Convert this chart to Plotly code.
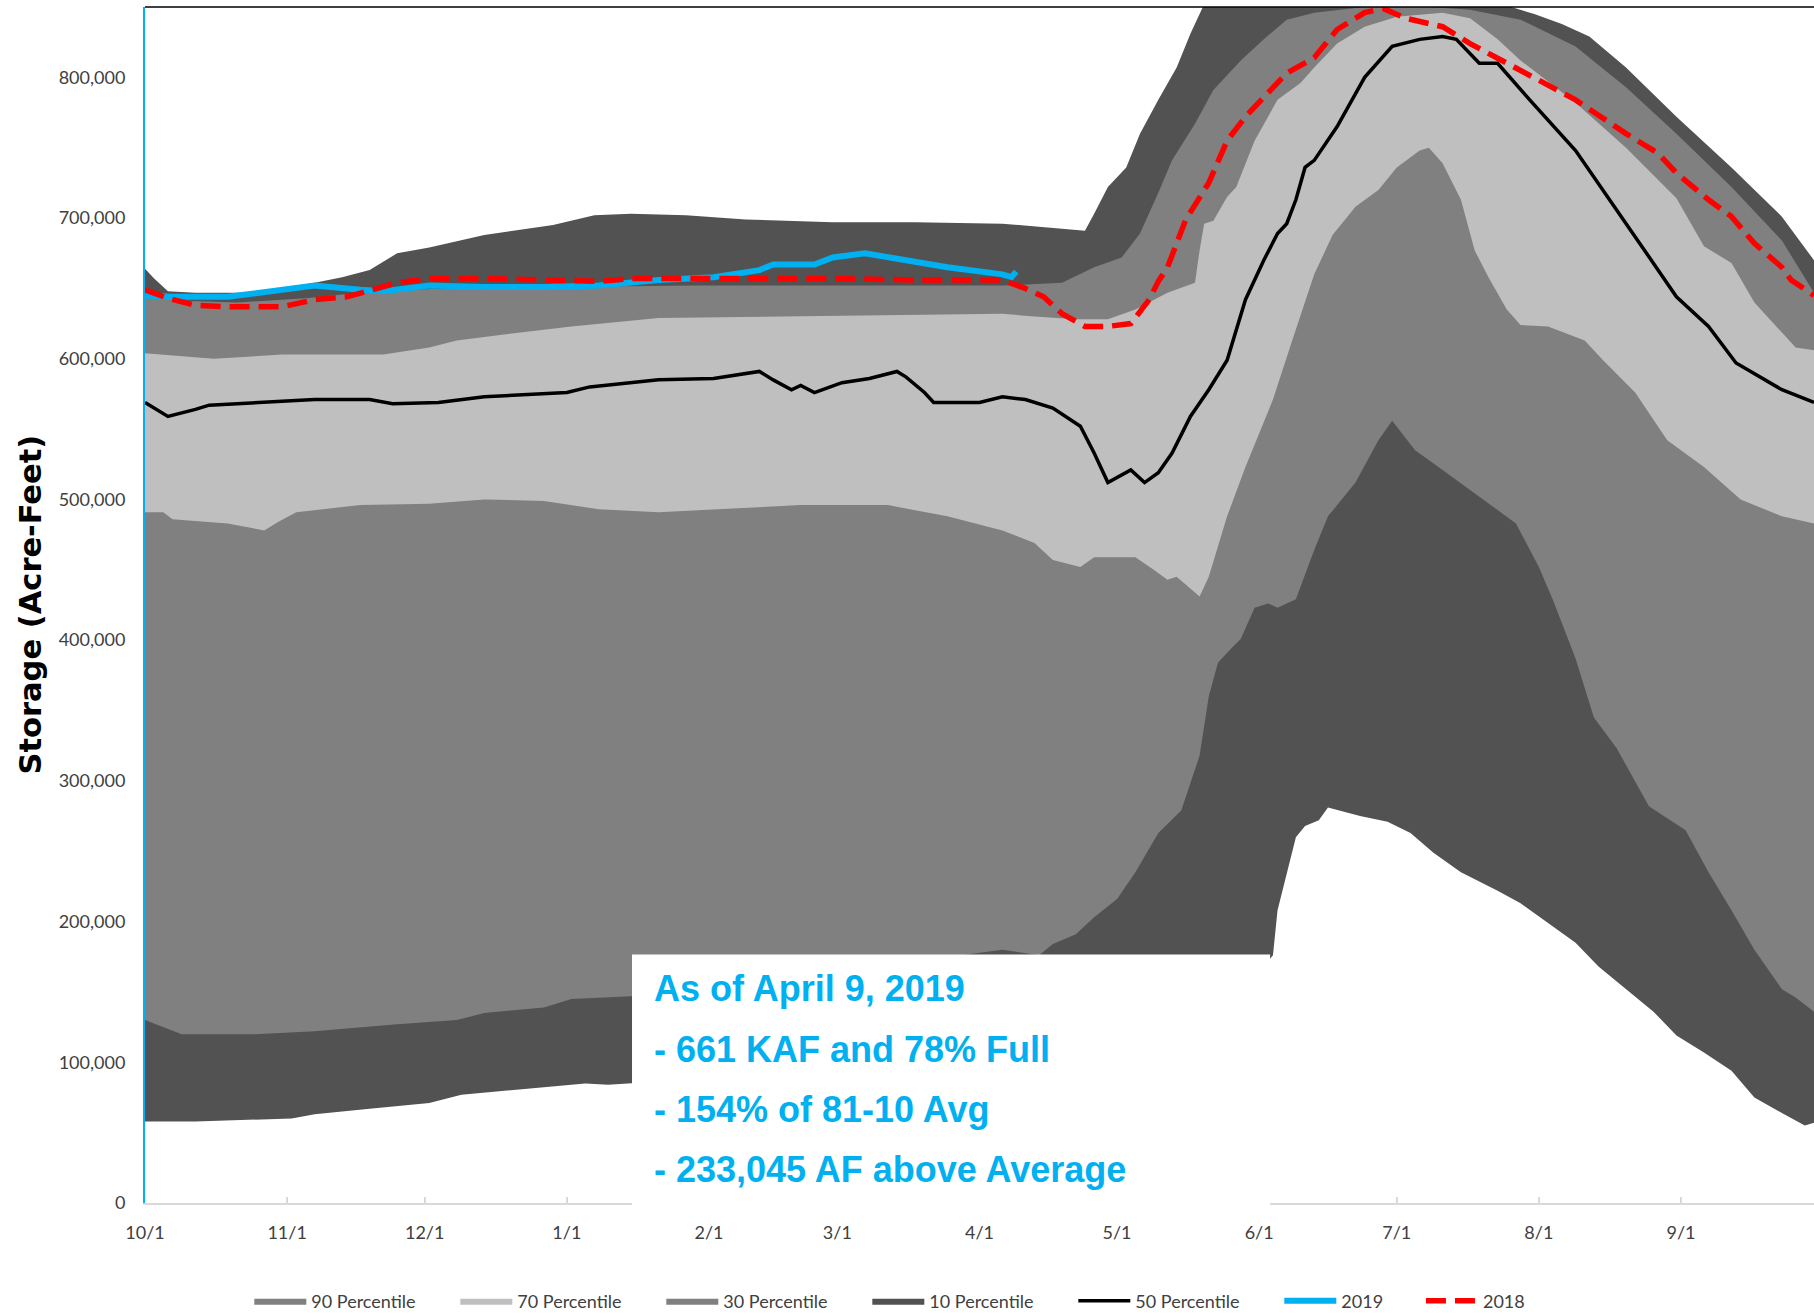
import pandas as pd
import plotly.graph_objects as go

BASE = pd.Timestamp("2018-10-01")

# ---- data (day offset from Oct 1, storage in acre-feet) ----
max_days = [0, 2, 5, 11, 24, 30, 37, 43, 49, 55, 62, 74, 89, 98, 106, 118, 131, 150, 168, 187, 195, 203, 205, 207, 210, 214, 217, 221, 225, 228, 231, 235, 250, 270, 290, 297, 303, 309, 315, 323, 334, 346, 357, 364]
max_vals = [664000, 657000, 648000, 647000, 647000, 650000, 654000, 658000, 663000, 675000, 679000, 688000, 695000, 702000, 703000, 702000, 699000, 697000, 697000, 696000, 694000, 692000, 691000, 703000, 722000, 736000, 760000, 784000, 807000, 831000, 852000, 870000, 890000, 895000, 870000, 851000, 845000, 838000, 829000, 807000, 772000, 736000, 701000, 670000]

p90_days = [0, 10, 20, 35, 50, 65, 90, 120, 150, 170, 187, 200, 207, 213, 217, 221, 224, 229, 233, 239, 244, 249, 255, 266, 280, 289, 300, 312, 323, 334, 346, 357, 364]
p90_vals = [645000, 641000, 640000, 643000, 648000, 650000, 651000, 652000, 652000, 652000, 652000, 654000, 665000, 672000, 689000, 718000, 741000, 767000, 791000, 812000, 827000, 841000, 846000, 850000, 850000, 848000, 841000, 822000, 793000, 760000, 722000, 684000, 647000]

p70_days = [0, 15, 30, 52, 62, 68, 80, 93, 112, 137, 162, 181, 187, 194, 203, 210, 216, 223, 229, 230, 231, 233, 236, 238, 242, 247, 252, 255, 260, 266, 273, 283, 289, 295, 300, 312, 323, 334, 340, 346, 351, 360, 364]
p70_vals = [604000, 600000, 603000, 603000, 608000, 613000, 618000, 623000, 629000, 630000, 631000, 632000, 632000, 630000, 628000, 628000, 635000, 647000, 654000, 677000, 696000, 698000, 715000, 722000, 755000, 784000, 796000, 807000, 824000, 836000, 843000, 846000, 842000, 827000, 812000, 782000, 750000, 714000, 680000, 668000, 640000, 608000, 606000]

p30_days = [0, 4, 6, 18, 26, 29, 33, 47, 62, 74, 87, 99, 112, 124, 143, 162, 175, 187, 194, 198, 204, 207, 216, 220, 223, 225, 230, 232, 236, 240, 246, 250, 255, 259, 264, 269, 273, 278, 280, 283, 287, 290, 293, 297, 300, 306, 314, 318, 325, 332, 340, 348, 357, 364]
p30_vals = [491000, 491000, 486000, 483000, 478000, 484000, 491000, 496000, 497000, 500000, 499000, 493000, 491000, 493000, 496000, 496000, 488000, 478000, 469000, 457000, 452000, 459000, 459000, 450000, 443000, 445000, 431000, 445000, 488000, 523000, 571000, 611000, 660000, 688000, 708000, 720000, 736000, 748000, 750000, 739000, 713000, 677000, 658000, 635000, 624000, 623000, 613000, 599000, 576000, 542000, 523000, 500000, 488000, 483000]

p10_days = [0, 8, 24, 37, 55, 68, 74, 87, 93, 106, 120, 140, 160, 180, 187, 195, 198, 203, 207, 212, 216, 221, 226, 228, 230, 232, 234, 236, 239, 242, 245, 247, 251, 255, 258, 264, 269, 272, 277, 283, 291, 299, 304, 307, 312, 316, 321, 328, 336, 341, 346, 351, 357, 360, 364]
p10_vals = [130000, 120000, 120000, 122000, 127000, 130000, 135000, 139000, 145000, 147000, 152000, 158000, 166000, 177000, 180000, 176000, 184000, 191000, 203000, 216000, 235000, 263000, 279000, 298000, 318000, 360000, 384000, 391000, 401000, 423000, 426000, 423000, 429000, 464000, 488000, 512000, 542000, 556000, 535000, 521000, 502000, 483000, 452000, 429000, 387000, 345000, 323000, 282000, 265000, 235000, 208000, 180000, 152000, 146000, 136000]

min_days = [0, 11, 32, 37, 49, 62, 69, 87, 96, 101, 120, 150, 180, 210, 235, 243, 246, 247, 249, 251, 253, 256, 258, 265, 271, 276, 281, 287, 295, 300, 306, 312, 317, 323, 329, 334, 340, 346, 351, 357, 362, 364]
min_vals = [58000, 58000, 60000, 63000, 67000, 71000, 77000, 82000, 85000, 84000, 88000, 95000, 110000, 130000, 150000, 165000, 176000, 208000, 235000, 260000, 268000, 272000, 281000, 275000, 271000, 263000, 249000, 235000, 222000, 213000, 199000, 185000, 168000, 152000, 136000, 119000, 107000, 94000, 75000, 64000, 55000, 57000]

p50_days = [0, 5, 11, 14, 37, 49, 54, 64, 74, 92, 97, 106, 112, 124, 134, 137, 141, 143, 146, 152, 158, 164, 166, 170, 172, 182, 187, 192, 198, 204, 207, 210, 215, 218, 221, 224, 228, 232, 236, 240, 244, 247, 249, 251, 253, 255, 260, 266, 272, 278, 283, 286, 291, 295, 302, 312, 318, 326, 334, 341, 347, 357, 364]
p50_vals = [569000, 559000, 564000, 567000, 571000, 571000, 568000, 569000, 573000, 576000, 580000, 583000, 585000, 586000, 591000, 585000, 578000, 581000, 576000, 583000, 586000, 591000, 587000, 576000, 569000, 569000, 573000, 571000, 565000, 552000, 533000, 512000, 521000, 512000, 519000, 533000, 559000, 578000, 599000, 642000, 670000, 689000, 696000, 713000, 736000, 741000, 765000, 800000, 822000, 827000, 829000, 827000, 810000, 810000, 784000, 748000, 720000, 682000, 644000, 623000, 597000, 578000, 569000]

wy2019_days = [0, 6, 18, 28, 37, 47, 52, 62, 74, 87, 99, 112, 124, 134, 137, 146, 150, 157, 162, 175, 187, 189, 190]
wy2019_vals = [645000, 644000, 644000, 648000, 652000, 649000, 648000, 652000, 651000, 651000, 652000, 656000, 658000, 663000, 667000, 667000, 672000, 675000, 672000, 665000, 660000, 658000, 662000]

wy2018_days = [0, 5, 11, 18, 30, 37, 44, 49, 55, 62, 74, 87, 99, 106, 124, 150, 168, 187, 192, 196, 200, 205, 210, 215, 219, 221, 223, 227, 232, 236, 240, 245, 249, 255, 260, 266, 270, 275, 283, 289, 300, 312, 323, 330, 334, 341, 346, 351, 357, 359, 364]
wy2018_vals = [649000, 643000, 638000, 637000, 637000, 642000, 644000, 649000, 654000, 657000, 657000, 656000, 655000, 657000, 657000, 657000, 656000, 656000, 650000, 644000, 632000, 623000, 623000, 625000, 642000, 655000, 665000, 699000, 725000, 755000, 772000, 789000, 803000, 814000, 834000, 846000, 849000, 842000, 836000, 824000, 805000, 784000, 760000, 746000, 732000, 713000, 701000, 682000, 665000, 656000, 645000]

tick_months = ["2018-10-01", "2018-11-01", "2018-12-01", "2019-01-01", "2019-02-01", "2019-03-01",
               "2019-04-01", "2019-05-01", "2019-06-01", "2019-07-01", "2019-08-01", "2019-09-01"]
tick_labels = ["10/1", "11/1", "12/1", "1/1", "2/1", "3/1", "4/1", "5/1", "6/1", "7/1", "8/1", "9/1"]
y_ticks = [0, 100000, 200000, 300000, 400000, 500000, 600000, 700000, 800000]

box_lines = ["As of April 9, 2019", "- 661 KAF and 78% Full", "- 154% of 81-10 Avg", "- 233,045 AF above Average"]
y_title = "Storage (Acre-Feet)"

DARK = "#525252"
MID = "#808080"
LIGHT = "#BFBFBF"
BLUE = "#00B0F0"


def to_dates(days):
    return BASE + pd.to_timedelta(days, unit="D")


fig = go.Figure()

areas = [
    ("Maximum", max_days, max_vals, DARK, False),
    ("90 Percentile", p90_days, p90_vals, MID, True),
    ("70 Percentile", p70_days, p70_vals, LIGHT, True),
    ("30 Percentile", p30_days, p30_vals, MID, True),
    ("10 Percentile", p10_days, p10_vals, DARK, True),
    ("Minimum", min_days, min_vals, "#FFFFFF", False),
]
for name, d, v, col, show in areas:
    fig.add_trace(go.Scatter(
        x=to_dates(d), y=v, name=name, mode="lines",
        line=dict(width=0, color=col), fill="tozeroy", fillcolor=col,
        showlegend=show, hoverinfo="skip"))

fig.add_trace(go.Scatter(x=to_dates(p50_days), y=p50_vals, name="50 Percentile", mode="lines",
                         line=dict(color="#000000", width=3.5)))
fig.add_trace(go.Scatter(x=to_dates(wy2019_days), y=wy2019_vals, name="2019", mode="lines",
                         line=dict(color=BLUE, width=6)))
fig.add_trace(go.Scatter(x=to_dates(wy2018_days), y=wy2018_vals, name="2018", mode="lines",
                         line=dict(color="#FF0000", width=5.5, dash="20px,9px"),
                         legend="legend2"))

TICKFONT = dict(family="Lato, 'Open Sans', sans-serif", size=18, color="#404040")
LEGFONT = dict(family="Lato, 'Open Sans', sans-serif", size=18, color="#404040")

fig.update_xaxes(
    range=["2018-10-01", "2019-09-30"],
    tickvals=tick_months, ticktext=tick_labels,
    showline=True, linecolor="#D9D9D9", linewidth=2,
    ticks="inside", ticklen=6, tickwidth=2, tickcolor="#D9D9D9",
    ticklabelstandoff=12, automargin=False,
    showgrid=False, zeroline=False, tickfont=TICKFONT,
)
fig.update_yaxes(
    range=[0, 850000], tickvals=y_ticks, tickformat=",",
    showline=True, linecolor=BLUE, linewidth=2,
    ticks="", ticklabelstandoff=14, automargin=False,
    showgrid=False, zeroline=False, tickfont=TICKFONT,
)

# y-axis title
fig.add_annotation(xref="paper", yref="paper", x=-0.0692, y=0.5, xanchor="center", yanchor="middle",
                   text="<b>" + y_title + "</b>", textangle=-90, showarrow=False,
                   font=dict(family="'DejaVu Sans', sans-serif", size=30.5, color="#000000"))

# top border of plot area
fig.add_shape(type="line", xref="paper", yref="paper", x0=0, x1=1, y0=1, y1=1,
              line=dict(color="#000000", width=1.5), layer="above")

# white text box
fig.add_shape(type="rect", xref="paper", yref="paper",
              x0=0.2918, x1=0.6741, y0=-0.003, y1=0.2078,
              fillcolor="#FFFFFF", line=dict(width=0), layer="above")

line_y = [0.1793, 0.1285, 0.0784, 0.0282]
for txt, yy in zip(box_lines, line_y):
    fig.add_annotation(xref="paper", yref="paper", x=0.3037, y=yy, xanchor="left", yanchor="middle",
                       text="<b>" + txt + "</b>", showarrow=False,
                       font=dict(family="'Liberation Sans Narrow', 'Arial Narrow', 'Liberation Sans', sans-serif",
                                 size=36, color=BLUE))

fig.update_layout(
    width=1814, height=1314,
    margin=dict(l=145, r=0, t=7, b=111, autoexpand=False),
    paper_bgcolor="#FFFFFF", plot_bgcolor="#FFFFFF",
    showlegend=True,
    legend=dict(orientation="h", x=0.0625, y=-0.082, xanchor="left", yanchor="middle",
                font=LEGFONT, itemwidth=52, entrywidth=139, bgcolor="rgba(0,0,0,0)"),
    legend2=dict(orientation="h", x=0.7645, y=-0.082, xanchor="left", yanchor="middle",
                 font=LEGFONT, itemwidth=52, bgcolor="rgba(0,0,0,0)"),
)

fig.write_html("out.html", config={"displayModeBar": False},
               post_script="document.body.style.margin='0';document.body.style.overflow='hidden';")
